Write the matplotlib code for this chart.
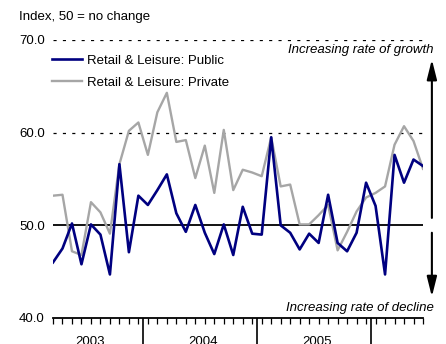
import matplotlib
matplotlib.use('Agg')
import numpy as np
import matplotlib.pyplot as plt
import matplotlib.transforms as mtransforms

plt.rcParams['font.family'] = ['Liberation Sans', 'DejaVu Sans']

# monthly index, Mar 2003 - Jun 2006
months = np.arange(40)
public = [46.0, 47.5, 50.2, 45.8, 50.1, 49.0, 44.7, 56.6, 47.1, 53.2,
          52.2, 53.8, 55.5, 51.3, 49.3, 52.2, 49.2, 46.9, 50.1, 46.8,
          52.0, 49.1, 49.0, 59.5, 50.0, 49.2, 47.4, 49.1, 48.1, 53.3,
          48.1, 47.2, 49.2, 54.6, 52.1, 44.7, 57.6, 54.6, 57.1, 56.4]
private = [53.2, 53.3, 47.2, 46.8, 52.5, 51.4, 49.1, 56.6, 60.2, 61.1,
           57.6, 62.2, 64.3, 59.0, 59.2, 55.1, 58.6, 53.5, 60.3, 53.8,
           56.0, 55.7, 55.3, 59.5, 54.2, 54.4, 50.1, 50.1, 51.1, 52.2,
           47.3, 49.3, 51.5, 53.0, 53.5, 54.2, 58.7, 60.7, 59.1, 56.1]
years = ['2003', '2004', '2005']
year_pos = [3.9, 15.8, 27.8]
year_bounds = [9.5, 21.5, 33.5]

fig = plt.figure(figsize=(4.46, 3.44), dpi=100)
ax = fig.add_axes([53/446, 1-318/344, 370/446, 278/344])

for y in [60, 70]:
    ax.axhline(y, color='black', lw=0.9, ls=(0, (2.5, 5)), zorder=1)
ax.axhline(50, color='black', lw=1.3, zorder=1)

ax.plot(months, private, color='#a6a6a6', lw=1.7, label='Retail & Leisure: Private', zorder=2)
ax.plot(months, public, color='#000080', lw=1.9, label='Retail & Leisure: Public', zorder=3)

ax.set_xlim(0, 39)
ax.set_ylim(40, 70)
for s in ['top', 'right', 'left']:
    ax.spines[s].set_visible(False)
ax.spines['bottom'].set_linewidth(1.3)

ax.set_yticks([40, 50, 60, 70])
ax.set_yticklabels(['40.0', '50.0', '60.0', '70.0'], fontsize=9.5)
ax.tick_params(axis='y', length=0, pad=6)

ax.set_xticks(year_bounds)
ax.set_xticklabels([])
ax.set_xticks(months, minor=True)
ax.tick_params(axis='x', which='major', length=22, width=1.2, direction='out')
ax.tick_params(axis='x', which='minor', length=4, width=0.9, direction='out')

trans = mtransforms.blended_transform_factory(ax.transData, ax.transAxes)
for lab, xp in zip(years, year_pos):
    ax.text(xp, -0.063, lab, transform=trans, ha='center', va='top', fontsize=9.5, clip_on=False)

h, l = ax.get_legend_handles_labels()
ax.legend(h[::-1], l[::-1], loc='upper left', bbox_to_anchor=(-0.035, 0.99), frameon=False,
          fontsize=9.5, handlelength=2.3, handletextpad=0.35, labelspacing=0.75)

fig.text(19/446, 1-17/344, 'Index, 50 = no change', fontsize=9.5, ha='left', va='center')
fig.text(434/446, 1-50/344, 'Increasing rate of growth', fontsize=9.5, style='italic', ha='right', va='center')
fig.text(434/446, 1-308/344, 'Increasing rate of decline', fontsize=9.5, style='italic', ha='right', va='center')

arr = dict(arrowstyle='-|>,head_length=1.2,head_width=0.3', color='black', lw=1.5, shrinkA=0, shrinkB=0)
ax.annotate('', xy=(1.024, 67.9), xytext=(1.024, 50.8), xycoords=('axes fraction', 'data'),
            textcoords=('axes fraction', 'data'), arrowprops=arr, annotation_clip=False)
ax.annotate('', xy=(1.024, 42.3), xytext=(1.024, 49.2), xycoords=('axes fraction', 'data'),
            textcoords=('axes fraction', 'data'), arrowprops=arr, annotation_clip=False)

fig.savefig('out.png', dpi=100)
